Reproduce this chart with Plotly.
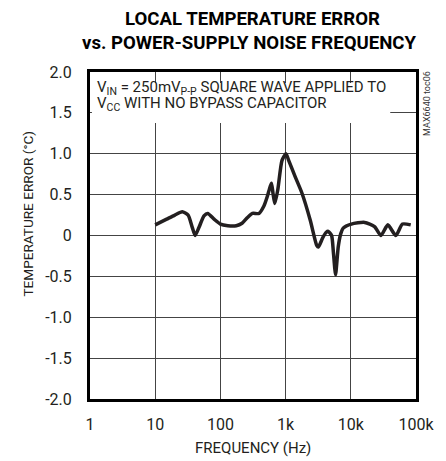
import plotly.graph_objects as go

# Data
freq_hz = [10, 15, 20, 26, 32, 37, 41, 47, 56, 64, 80, 100, 130, 175, 215, 260, 310, 390,
           465, 521, 580, 608, 640, 683, 759, 881, 1014, 1114, 1400, 1778, 2383, 3000, 3184,
           3700, 4200, 4518, 5076, 5400, 5836, 6150, 6414, 7000, 7638, 10200, 16300, 23100,
           29000, 37000, 49000, 62000, 83000]
temp_error_c = [0.13, 0.20, 0.25, 0.29, 0.25, 0.10, 0.0, 0.10, 0.24, 0.27, 0.20, 0.14, 0.12,
                0.12, 0.15, 0.22, 0.27, 0.27, 0.36, 0.47, 0.60, 0.64, 0.52, 0.39, 0.56, 0.92,
                1.00, 0.92, 0.72, 0.52, 0.19, -0.12, -0.14, -0.03, 0.04, 0.05, 0.0, -0.20,
                -0.48, -0.30, -0.14, 0.02, 0.09, 0.14, 0.16, 0.11, 0.0, 0.13, 0.0, 0.14, 0.13]

x_tick_vals = [1, 10, 100, 1000, 10000, 100000]
x_tick_text = ["1", "10", "100", "1k", "10k", "100k"]
y_tick_vals = [-2.0, -1.5, -1.0, -0.5, 0, 0.5, 1.0, 1.5, 2.0]
y_tick_text = ["-2.0", "-1.5", "-1.0", "-0.5", "0", "0.5", "1.0", "1.5", "2.0"]

FONT = "Roboto, sans-serif"

fig = go.Figure()
fig.add_trace(go.Scatter(
    x=freq_hz, y=temp_error_c, mode="lines",
    line=dict(color="#231f20", width=3.5, shape="spline", smoothing=0.6),
    showlegend=False, hoverinfo="skip"))

fig.update_layout(
    width=446, height=461,
    margin=dict(l=90, r=27, t=72, b=62),
    paper_bgcolor="white", plot_bgcolor="white",
    font=dict(family=FONT, size=16, color="#231f20"),
    xaxis=dict(type="log", range=[0, 5], tickvals=x_tick_vals, ticktext=x_tick_text,
               showgrid=True, gridcolor="#444", gridwidth=1,
               showline=True, linecolor="black", linewidth=3, mirror=True,
               ticks="", ticklabelstandoff=9, zeroline=False,
               tickfont=dict(family=FONT, size=16)),
    yaxis=dict(range=[-2, 2], tickvals=y_tick_vals, ticktext=y_tick_text,
               showgrid=True, gridcolor="#444", gridwidth=1,
               showline=True, linecolor="black", linewidth=3, mirror=True,
               ticks="", ticklabelstandoff=12, zeroline=False,
               tickfont=dict(family=FONT, size=16)),
)

# white box hiding grid behind the condition text
fig.add_shape(type="rect", xref="paper", yref="paper",
              x0=0.006, x1=0.921, y0=0.844, y1=0.966,
              fillcolor="white", line=dict(width=0), layer="above")

ann = []
ann.append(dict(text="<b>LOCAL TEMPERATURE ERROR</b>", x=254, y=19))
ann.append(dict(text="<b>vs. POWER-SUPPLY NOISE FREQUENCY</b>", x=251, y=42.5))

for a in ann:
    fig.add_annotation(text=a["text"], xref="paper", yref="paper",
                       x=(a["x"] - 90) / 329, y=(399 - a["y"]) / 327,
                       xanchor="center", yanchor="middle", showarrow=False,
                       font=dict(family=FONT, size=18.6, color="black", weight=900))

fig.add_annotation(text="V<sub>IN</sub> = 250mV<sub>P-P</sub> SQUARE WAVE APPLIED TO",
                   xref="paper", yref="paper", x=(95 - 90) / 329, y=(399 - 88) / 327,
                   xanchor="left", yanchor="middle", showarrow=False,
                   font=dict(family=FONT, size=15, color="#231f20"))
fig.add_annotation(text="V<sub>CC</sub> WITH NO BYPASS CAPACITOR",
                   xref="paper", yref="paper", x=(95 - 90) / 329, y=(399 - 104) / 327,
                   xanchor="left", yanchor="middle", showarrow=False,
                   font=dict(family=FONT, size=15, color="#231f20"))
fig.add_annotation(text="MAX6640 toc06", xref="paper", yref="paper",
                   x=(430 - 90) / 329, y=(399 - 103) / 327, textangle=-90,
                   xanchor="center", yanchor="middle", showarrow=False,
                   font=dict(family=FONT, size=9, color="#333"))
fig.add_annotation(text="FREQUENCY (Hz)", xref="paper", yref="paper",
                   x=(254 - 90) / 329, y=(399 - 448) / 327,
                   xanchor="center", yanchor="middle", showarrow=False,
                   font=dict(family=FONT, size=15, color="#231f20"))
fig.add_annotation(text="TEMPERATURE ERROR (°C)", xref="paper", yref="paper",
                   x=(27 - 90) / 329, y=(399 - 214) / 327, textangle=-90,
                   xanchor="center", yanchor="middle", showarrow=False,
                   font=dict(family=FONT, size=13.6, color="#231f20"))

fig.write_html("out.html", config={"displayModeBar": False},
               post_script="document.body.style.margin='0';")
